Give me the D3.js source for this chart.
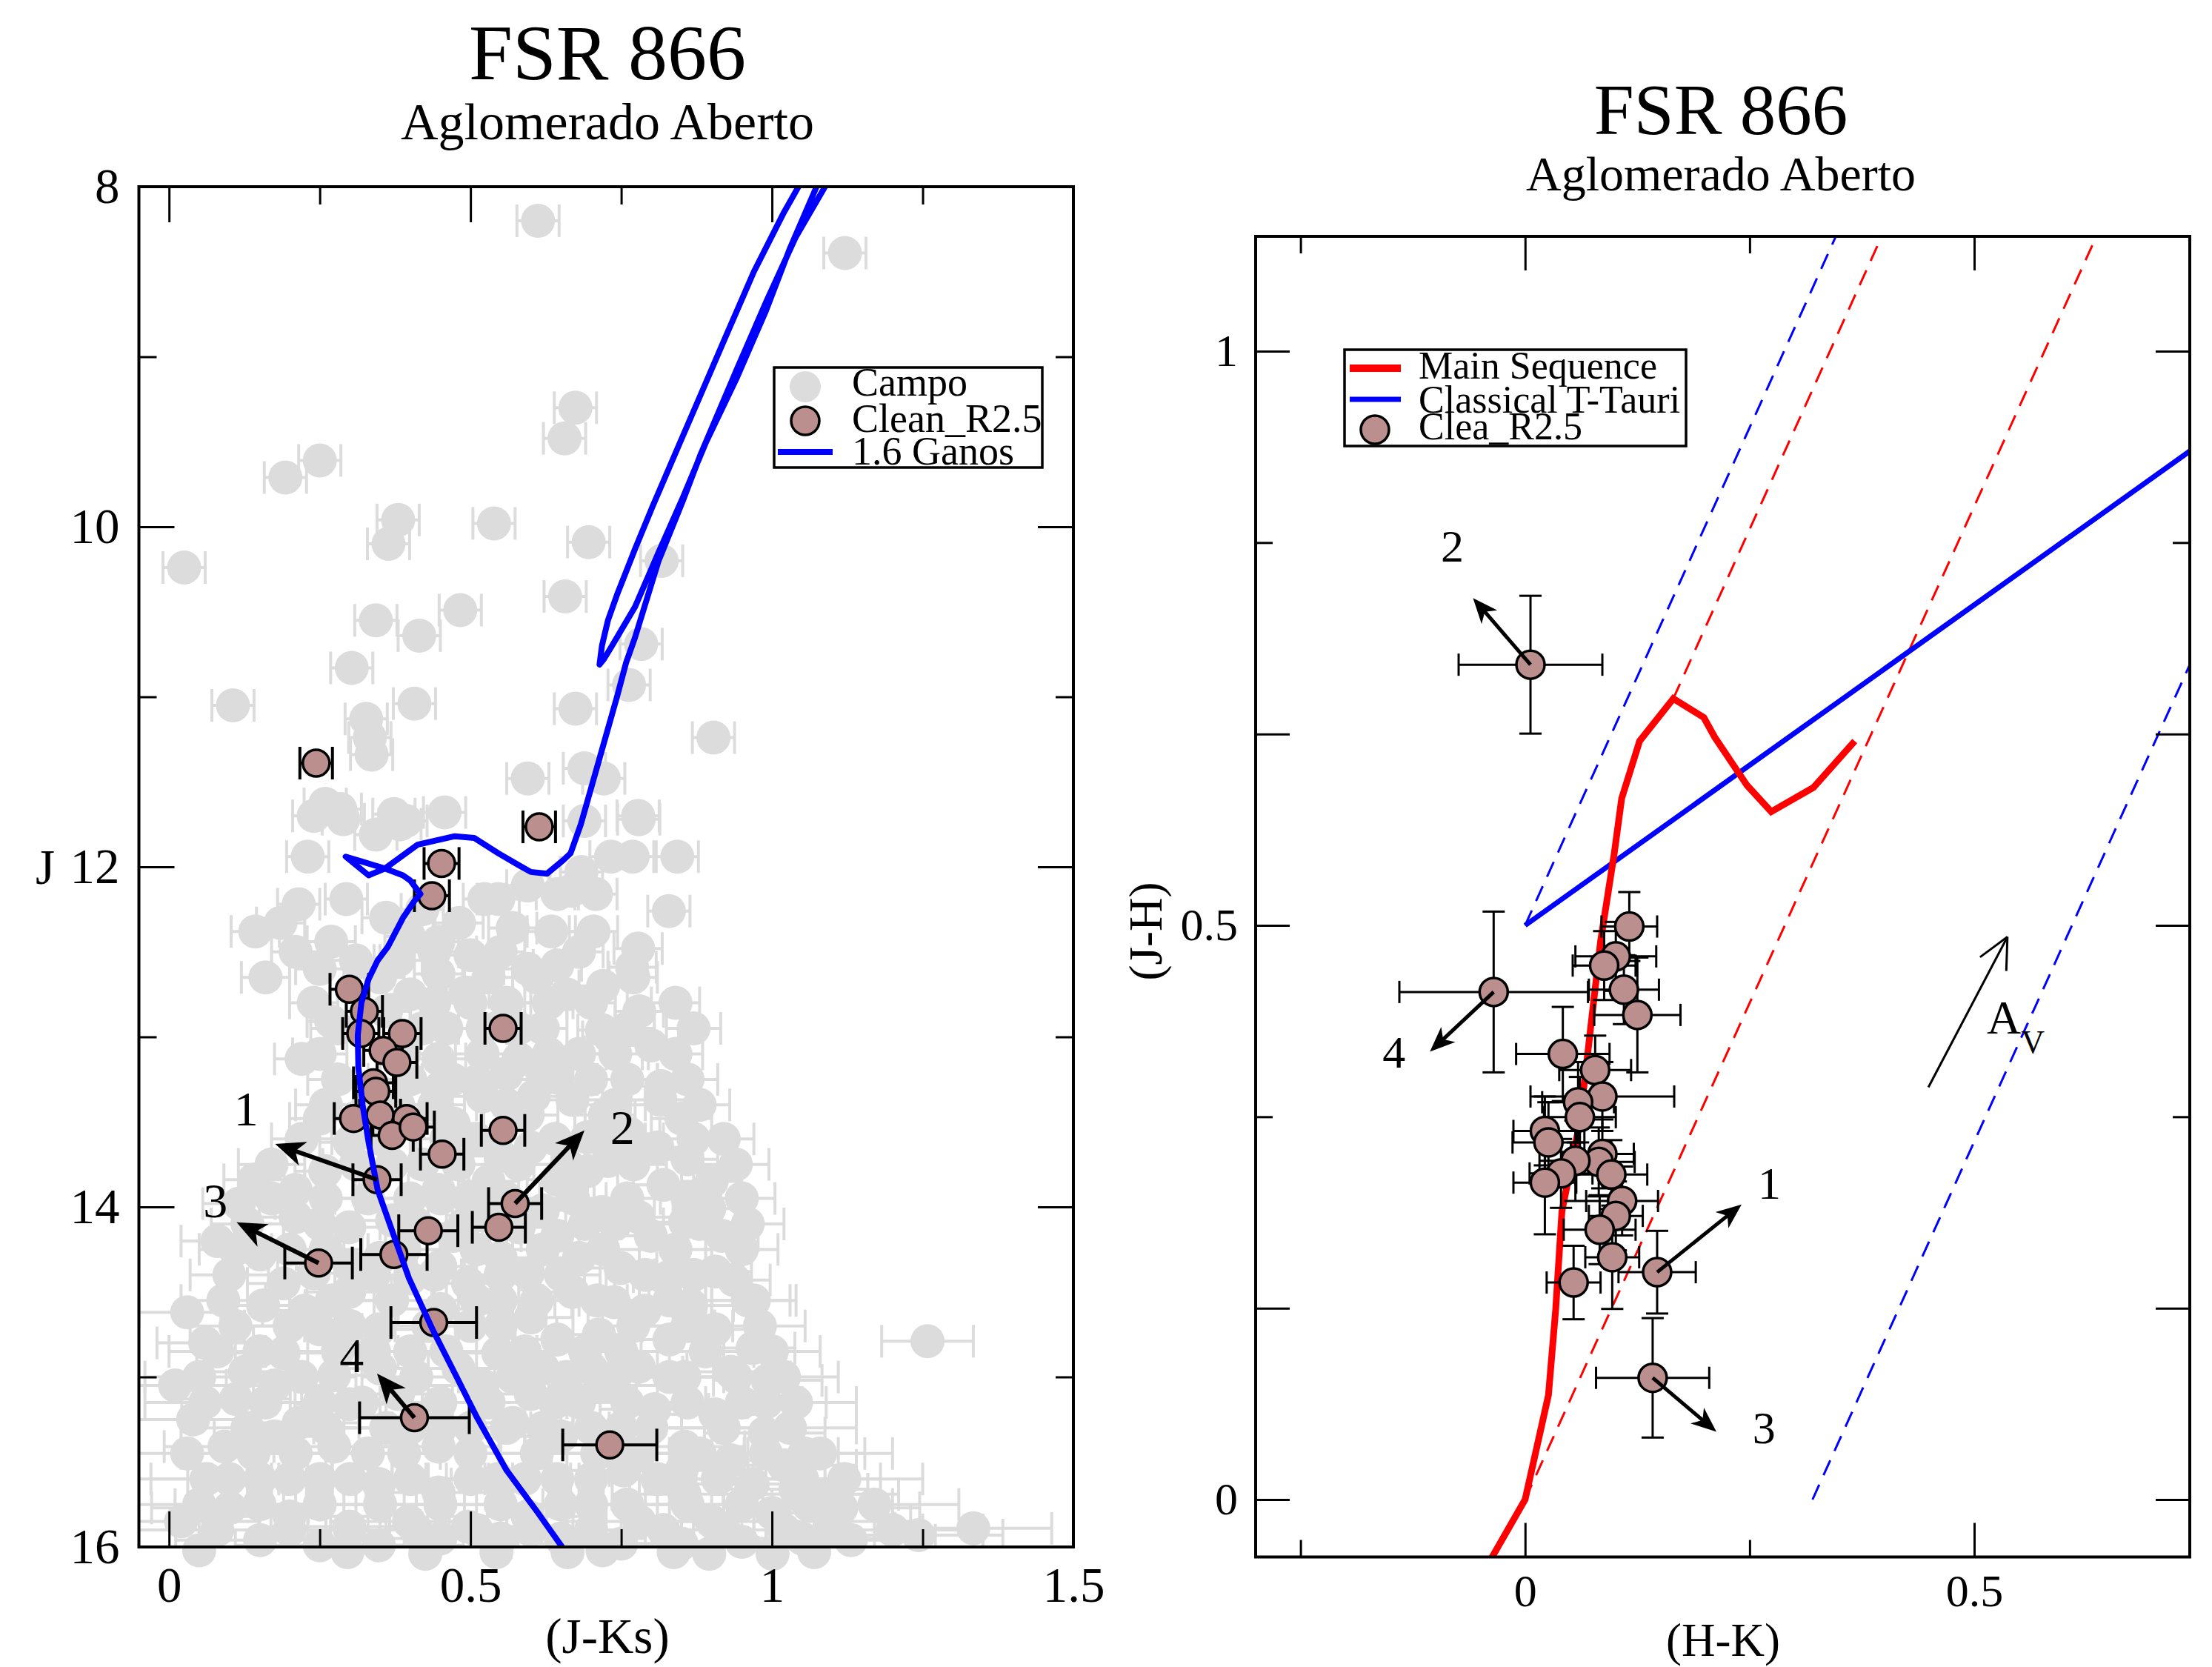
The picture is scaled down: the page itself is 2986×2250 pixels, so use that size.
<!DOCTYPE html>
<html>
<head>
<meta charset="utf-8">
<script src="https://cdn.jsdelivr.net/npm/d3@7"></script>
<style>
  body { margin: 0; background: #fff; }
  text { font-family: "Liberation Serif", "Times New Roman", Times, serif; fill: #000; }
</style>
</head>
<body>
<div id="chart"></div>
<script>
// ---------- left panel data: CMD J vs (J-Ks) ----------
// field stars [J-Ks, J, err(J-Ks)]
const campo = [
  [0.612,8.20,0.035],[1.121,8.39,0.035],[0.674,9.30,0.035],[0.656,9.48,0.035],[0.250,9.61,0.035],
  [0.193,9.71,0.035],[0.380,9.96,0.035],[0.539,9.98,0.035],[0.364,10.10,0.035],[0.696,10.09,0.035],
  [0.025,10.24,0.035],[0.817,10.20,0.035],[0.657,10.41,0.035],[0.483,10.49,0.035],[0.343,10.55,0.035],
  [0.415,10.64,0.035],[0.783,10.69,0.035],[0.303,10.83,0.035],[0.763,10.93,0.035],[0.106,11.05,0.035],
  [0.407,11.04,0.035],[0.327,11.13,0.035],[0.674,11.07,0.035],[0.333,11.24,0.035],[0.903,11.24,0.035],
  [0.336,11.34,0.035],[0.595,11.48,0.035],[0.689,11.42,0.035],[0.721,11.48,0.035],[0.259,11.63,0.035],
  [0.284,11.66,0.035],[0.240,11.70,0.035],[0.373,11.69,0.035],[0.393,11.73,0.035],[0.457,11.68,0.035],
  [0.343,11.81,0.035],[0.778,11.70,0.035],[0.689,11.73,0.035],
  [0.289,11.72,0.035],[0.383,11.75,0.035],[0.230,11.94,0.035],[0.779,11.72,0.035],[0.733,11.94,0.035],
  [0.769,11.94,0.035],[0.843,11.94,0.035],[0.294,12.19,0.035],[0.215,12.22,0.035],[0.143,12.38,0.04],
  [0.269,12.44,0.04],[0.398,12.41,0.04],[0.447,12.44,0.04],[0.481,12.33,0.04],[0.546,12.19,0.035],
  [0.595,12.11,0.035],[0.644,12.16,0.035],[0.684,12.03,0.035],[0.708,12.16,0.035],[0.829,12.26,0.035],
  [0.704,12.38,0.04],[0.634,12.38,0.04],[0.570,12.36,0.04],[0.778,12.48,0.04],[0.768,12.59,0.04],
  [0.667,12.14,0.035],[0.523,12.19,0.035],[0.360,12.30,0.04],[0.420,12.25,0.035],[0.185,12.33,0.04],
  [0.447,12.63,0.04],[0.491,12.74,0.04],[0.560,12.80,0.04],[0.595,12.60,0.04],[0.644,12.58,0.04],
  [0.718,12.96,0.04],[0.269,12.91,0.04],[0.220,13.13,0.045],[0.447,13.13,0.045],[0.511,13.26,0.045],
  [0.580,13.13,0.045],[0.731,13.00,0.045],[0.400,12.75,0.04],[0.360,12.85,0.04],[0.520,12.95,0.04],
  [0.620,12.95,0.04],[0.660,12.75,0.04],[0.780,12.85,0.04],[0.800,13.05,0.045],[0.250,12.60,0.04],
  [0.310,12.55,0.04],[0.380,12.55,0.04],[0.500,12.52,0.04],[0.720,12.70,0.04],[0.680,13.10,0.045],
  [0.644,13.24,0.05],[0.605,13.35,0.05],[0.669,13.37,0.05],[0.250,13.48,0.05],[0.472,13.51,0.05],
  [0.595,13.46,0.05],[0.694,13.59,0.05],[0.816,13.29,0.05],[0.815,13.37,0.05],[0.850,13.48,0.05],
  [0.723,13.46,0.05],[0.764,13.57,0.05],[0.810,13.65,0.05],[0.728,13.73,0.05],[0.820,13.87,0.05],
  [0.141,13.84,0.05],[0.210,13.90,0.05],[0.259,13.79,0.05],[0.447,13.90,0.05],[0.496,13.95,0.05],
  [0.644,13.84,0.05],[0.694,13.79,0.05],[0.520,13.35,0.05],[0.450,13.30,0.05],[0.420,13.75,0.05],
  [0.550,13.70,0.05],[0.600,13.65,0.05],[0.530,13.85,0.05],[0.400,13.95,0.05],[0.300,13.62,0.05],
  [0.560,13.22,0.05],[0.380,13.40,0.05],[0.900,13.85,0.05],[0.860,13.72,0.05],
  [0.116,13.98,0.06],[0.210,14.06,0.06],[0.299,14.12,0.06],[0.151,14.28,0.06],[0.472,14.17,0.06],
  [0.644,14.17,0.06],[0.718,14.03,0.06],[0.779,14.06,0.06],[0.799,14.17,0.06],[0.856,14.09,0.06],
  [0.917,14.17,0.06],[0.896,14.01,0.06],[0.749,14.36,0.06],[0.830,14.41,0.06],[0.906,14.38,0.06],
  [0.937,14.43,0.06],[0.190,14.45,0.06],[0.240,14.39,0.06],[0.496,14.45,0.06],[0.595,14.39,0.06],
  [0.350,14.30,0.06],[0.400,14.42,0.06],[0.550,14.30,0.06],[0.620,14.02,0.06],[0.580,14.12,0.06],
  [0.680,14.30,0.06],[0.520,14.05,0.06],[0.450,14.35,0.06],[0.300,14.35,0.06],[0.080,14.20,0.06],
  [0.370,14.08,0.06],
  [0.156,14.58,0.07],[0.225,14.61,0.07],[0.299,14.50,0.07],[0.669,14.50,0.07],[0.738,14.56,0.07],
  [0.789,14.61,0.07],[0.866,14.58,0.07],[0.713,14.75,0.07],[0.830,14.78,0.07],[0.906,14.72,0.07],
  [0.968,14.83,0.07],[1.258,14.79,0.076],[0.190,14.86,0.08],[0.250,14.72,0.07],[0.348,14.72,0.07],
  [0.546,14.86,0.08],[0.644,14.78,0.07],[0.779,14.94,0.08],[0.855,15.00,0.08],[0.932,14.97,0.08],
  [0.126,14.97,0.08],[0.175,15.05,0.08],[0.274,14.99,0.08],[0.400,14.85,0.08],[0.450,14.60,0.07],
  [0.500,14.70,0.07],[0.550,14.55,0.07],[0.600,14.65,0.07],[0.620,14.95,0.08],[0.700,14.95,0.08],
  [0.350,14.95,0.08],[0.480,14.95,0.08],[0.060,14.80,0.08],
  [0.993,15.02,0.09],[0.805,15.19,0.09],[0.906,15.22,0.09],[0.988,15.33,0.10],[0.855,15.41,0.10],
  [0.111,15.13,0.09],[0.215,15.27,0.10],[0.299,15.16,0.09],[0.092,15.41,0.10],[0.175,15.35,0.10],
  [0.274,15.41,0.10],[0.447,15.41,0.10],[0.570,15.27,0.10],[0.932,15.49,0.10],[1.054,15.45,0.10],
  [0.380,15.10,0.09],[0.450,15.15,0.09],[0.520,15.05,0.09],[0.600,15.10,0.09],[0.680,15.15,0.09],
  [0.750,15.30,0.10],[0.650,15.35,0.10],[0.360,15.30,0.10],[0.500,15.30,0.10],[0.720,15.05,0.09],
  [0.040,15.25,0.10],
  [0.062,15.60,0.12],[0.151,15.60,0.12],[0.250,15.60,0.12],[0.348,15.63,0.12],[0.447,15.68,0.12],
  [0.546,15.60,0.12],[0.644,15.60,0.12],[0.101,15.77,0.13],[0.200,15.82,0.13],[0.299,15.88,0.13],
  [0.398,15.85,0.13],[0.496,15.88,0.13],[0.595,15.82,0.13],[0.151,15.96,0.14],[0.250,15.99,0.14],
  [0.348,15.99,0.14],[0.754,15.55,0.12],[0.855,15.69,0.12],[0.968,15.63,0.12],[1.039,15.66,0.12],
  [1.090,15.69,0.12],[1.115,15.77,0.13],[1.131,15.96,0.14],[1.243,15.93,0.14],[1.334,15.89,0.13],
  [0.296,16.03,0.14],[0.425,16.04,0.14],[0.543,16.03,0.14],[0.661,16.03,0.14],[0.719,16.02,0.14],
  [0.837,16.03,0.14],[0.896,16.04,0.14],[1.001,16.04,0.14],[0.700,15.75,0.13],[0.780,15.85,0.13],
  [0.900,15.85,0.13],[1.000,15.80,0.13],[0.020,15.85,0.13],[0.650,15.95,0.14],[0.550,15.95,0.14],
  [0.450,15.95,0.14],[0.750,15.98,0.14],[0.850,15.98,0.14],[0.950,15.97,0.14],[1.050,15.95,0.14],
  [0.050,16.02,0.14],[0.850,15.55,0.12],[1.020,15.52,0.12],[1.100,15.85,0.13],[1.070,16.03,0.14],
  [0.010,15.05,0.10],[0.030,14.62,0.08],[0.990,15.15,0.10],[0.970,14.55,0.07]
];

// the crowded lower part of the field cloud, read row by row: J, err, J-Ks values
const campoRows = [
  { J: 12.50, err: 0.04, v: [0.21,0.44,0.55,0.68] },
  { J: 12.65, err: 0.04, v: [0.16,0.35,0.53,0.61,0.77] },
  { J: 12.80, err: 0.04, v: [0.24,0.44,0.50,0.63,0.70,0.84] },
  { J: 12.95, err: 0.045, v: [0.28,0.42,0.46,0.58,0.76,0.87] },
  { J: 13.10, err: 0.045, v: [0.25,0.39,0.52,0.63,0.74,0.84] },
  { J: 13.25, err: 0.05, v: [0.28,0.40,0.47,0.62,0.70,0.76,0.86] },
  { J: 13.40, err: 0.05, v: [0.26,0.33,0.44,0.56,0.74,0.88] },
  { J: 13.60, err: 0.05, v: [0.22,0.35,0.46,0.51,0.64,0.74,0.87,0.92] },
  { J: 13.75, err: 0.055, v: [0.17,0.31,0.37,0.48,0.58,0.66,0.77,0.94] },
  { J: 13.95, err: 0.055, v: [0.17,0.26,0.33,0.45,0.56,0.67,0.76,0.86,0.95] },
  { J: 14.10, err: 0.06, v: [0.13,0.25,0.41,0.49,0.69,0.74,0.88,0.96] },
  { J: 14.25, err: 0.06, v: [0.11,0.20,0.26,0.39,0.51,0.62,0.72,0.84,0.95] },
  { J: 14.40, err: 0.065, v: [0.10,0.34,0.44,0.55,0.65,0.79,0.87] },
  { J: 14.55, err: 0.07, v: [0.09,0.27,0.37,0.51,0.61,0.71,0.83,0.96] },
  { J: 14.70, err: 0.075, v: [0.11,0.20,0.30,0.43,0.55,0.77,0.86,0.98] },
  { J: 14.85, err: 0.08, v: [0.08,0.15,0.28,0.34,0.46,0.59,0.69,0.75,0.89,1.00] },
  { J: 15.00, err: 0.09, v: [0.05,0.22,0.41,0.57,0.66,0.74,0.83,0.94,1.02] },
  { J: 15.15, err: 0.10, v: [0.06,0.16,0.25,0.32,0.53,0.64,0.76,0.86,0.95,1.04] },
  { J: 15.30, err: 0.11, v: [0.13,0.26,0.40,0.45,0.56,0.62,0.70,0.80,0.92,1.03] },
  { J: 15.45, err: 0.12, v: [0.03,0.14,0.21,0.33,0.39,0.50,0.61,0.71,0.78,0.88,0.99,1.08] },
  { J: 15.60, err: 0.13, v: [0.10,0.20,0.30,0.40,0.50,0.59,0.70,0.81,0.91,1.05,1.12] },
  { J: 15.75, err: 0.14, v: [0.05,0.15,0.25,0.35,0.45,0.55,0.65,0.76,0.86,0.95,1.06,1.17] },
  { J: 15.90, err: 0.15, v: [0.08,0.20,0.30,0.41,0.51,0.60,0.70,0.82,0.92,1.02,1.10,1.20] }
];

// decontaminated members [J-Ks, J, err(J-Ks)]
const clean = [
  [0.244,11.39,0.027],[0.614,11.765,0.027],[0.452,11.98,0.029],[0.436,12.17,0.029],[0.299,12.72,0.032],
  [0.324,12.85,0.030],[0.318,12.98,0.030],[0.387,12.98,0.031],[0.554,12.95,0.030],[0.355,13.08,0.032],
  [0.378,13.15,0.033],[0.339,13.27,0.033],[0.343,13.32,0.033],[0.306,13.48,0.032],[0.350,13.46,0.034],
  [0.394,13.48,0.034],[0.370,13.58,0.035],[0.405,13.53,0.035],[0.554,13.55,0.036],[0.453,13.69,0.036],
  [0.345,13.84,0.040],[0.574,13.98,0.044],[0.430,14.14,0.049],[0.547,14.12,0.044],[0.373,14.28,0.055],
  [0.248,14.33,0.056],[0.439,14.68,0.071],[0.407,15.24,0.091],[0.731,15.40,0.078]
];

// 1.6 Gyr isochrone [J-Ks, J]
const isochrone = [
  [0.660,16.03],[0.654,16.01],[0.610,15.79],[0.560,15.55],[0.511,15.24],[0.477,15.00],[0.437,14.72],
  [0.398,14.42],[0.368,14.12],[0.346,13.90],[0.331,13.62],[0.321,13.40],[0.314,13.18],[0.313,12.99],
  [0.319,12.80],[0.331,12.66],[0.346,12.55],[0.363,12.47],[0.388,12.30],[0.407,12.20],[0.417,12.16],
  [0.400,12.08],[0.388,12.05],[0.358,12.01],[0.331,12.05],[0.293,11.94],[0.321,11.97],[0.358,12.01],
  [0.412,11.87],[0.474,11.82],[0.506,11.83],[0.546,11.92],[0.580,11.99],[0.600,12.03],[0.627,12.04],
  [0.654,11.96],[0.666,11.92],[0.683,11.75],[0.699,11.55],[0.723,11.25],[0.743,11.00],[0.758,10.80],
  [0.773,10.65],[0.812,10.20],[0.852,9.85],[0.881,9.58],[0.941,9.08],[0.990,8.68],[1.039,8.30],
  [1.088,8.00],[1.100,7.92],[1.085,7.92],
  [1.074,8.00],[1.029,8.37],[0.990,8.73],[0.941,9.13],[0.891,9.50],[0.852,9.83],[0.812,10.15],
  [0.773,10.47],[0.733,10.71],[0.721,10.78],[0.714,10.81],
  [0.718,10.70],[0.728,10.55],[0.743,10.40],[0.773,10.13],[0.802,9.88],[0.842,9.55],[0.881,9.23],
  [0.921,8.90],[0.970,8.50],[1.020,8.15],[1.044,8.00],[1.060,7.90]
];

// reddening arrows on the CMD: star -> tip, label position
const cmdArrows = [
  { id: "1", from: [0.345,13.84], to: [0.176,13.63], at: [0.128,13.42] },
  { id: "2", from: [0.574,13.98], to: [0.689,13.55], at: [0.752,13.53] },
  { id: "3", from: [0.248,14.33], to: [0.112,14.09], at: [0.077,13.96] },
  { id: "4", from: [0.407,15.24], to: [0.345,14.98], at: [0.303,14.87] }
];

// ---------- right panel data: (J-H) vs (H-K) ----------
// [H-K, J-H, errX, errY]
const cleanCC = [
  [0.116,0.499,0.031,0.030],[0.101,0.473,0.045,0.030],[0.088,0.465,0.035,0.030],[0.110,0.444,0.039,0.030],
  [0.125,0.422,0.048,0.050],[-0.035,0.442,0.105,0.070],[0.042,0.388,0.052,0.041],[0.078,0.374,0.040,0.030],
  [0.086,0.351,0.080,0.030],[0.059,0.346,0.040,0.035],[0.061,0.333,0.040,0.035],[0.022,0.321,0.035,0.030],
  [0.026,0.311,0.040,0.035],[0.086,0.301,0.035,0.030],[0.082,0.294,0.040,0.030],[0.056,0.295,0.040,0.035],
  [0.040,0.284,0.035,0.030],[0.096,0.283,0.040,0.030],[0.022,0.276,0.035,0.045],[0.108,0.260,0.040,0.030],
  [0.101,0.247,0.030,0.030],[0.083,0.235,0.040,0.030],[0.097,0.211,0.030,0.045],[0.147,0.198,0.043,0.036],
  [0.054,0.189,0.030,0.032],[0.142,0.106,0.063,0.052],[0.006,0.727,0.080,0.060]
];

const mainSequence = [
  [-0.044,-0.06],[0.0,0.0],[0.026,0.091],[0.034,0.165],[0.041,0.251],[0.061,0.329],[0.084,0.486],
  [0.0995,0.564],[0.1075,0.6105],[0.1275,0.6605],[0.165,0.6975],[0.199,0.681],[0.211,0.664],
  [0.247,0.622],[0.274,0.599],[0.321,0.620],[0.367,0.6605]
];
const ttauri = [[0.0,0.5],[0.74,0.913]];
const reddeningBands = [
  { color: "#0000ff", pts: [[0.0,0.5],[0.346,1.1]] },
  { color: "#ff0000", pts: [[0.165,0.6975],[0.397,1.1]] },
  { color: "#ff0000", pts: [[0.0,0.0],[0.636,1.1]] },
  { color: "#0000ff", pts: [[0.32,0.0],[0.74,0.727]] }
];
const ccArrows = [
  { id: "1", from: [0.147,0.198], to: [0.241,0.257], at: [0.272,0.276] },
  { id: "2", from: [0.006,0.727], to: [-0.058,0.785], at: [-0.081,0.831] },
  { id: "3", from: [0.142,0.106], to: [0.213,0.059], at: [0.266,0.063] },
  { id: "4", from: [-0.035,0.442], to: [-0.106,0.390], at: [-0.146,0.390] }
];
const avVector = { from: [0.449,0.359], to: [0.537,0.490] };

// ---------- setup ----------
const brown = "#bc8f8f", grey = "#dcdcdc";
const svg = d3.select("#chart").append("svg")
  .attr("width", 2986)
  .attr("height", 2250);

svg.append("rect").attr("width", 2986).attr("height", 2250).attr("fill", "#fff");

function arrow(g, x1, y1, x2, y2, w, hl, hw) {
  const L = Math.hypot(x2 - x1, y2 - y1), ux = (x2 - x1) / L, uy = (y2 - y1) / L;
  const px = -uy, py = ux;
  const bx = x2 - ux * hl, by = y2 - uy * hl;
  g.append("line")
    .attr("x1", x1).attr("y1", y1)
    .attr("x2", x2 - ux * hl * 0.6).attr("y2", y2 - uy * hl * 0.6)
    .attr("stroke", "#000").attr("stroke-width", w);
  g.append("path")
    .attr("d", `M${x2},${y2}L${bx + px * hw},${by + py * hw}L${x2 - ux * hl * 0.72},${y2 - uy * hl * 0.72}L${bx - px * hw},${by - py * hw}Z`)
    .attr("fill", "#000");
}

function styleAxis(g, fs) {
  g.select(".domain").remove();
  g.selectAll(".tick line").attr("stroke", "#000").attr("stroke-width", 3);
  g.selectAll(".tick text").style("font-size", fs + "px").attr("fill", "#000");
}

function drawAxes(g, x, y, o) {
  const [x0, x1] = x.range(), [y0, y1] = y.range();
  const fmt = d3.format("~g");
  const specs = [
    [d3.axisBottom(x).tickValues(o.xMajor).tickSize(-o.major).tickPadding(o.xPad).tickFormat(fmt), `translate(0,${y0})`],
    [d3.axisBottom(x).tickValues(o.xMinor).tickSize(-o.minor).tickFormat(""), `translate(0,${y0})`],
    [d3.axisTop(x).tickValues(o.xMajor).tickSize(-o.major).tickFormat(""), `translate(0,${y1})`],
    [d3.axisTop(x).tickValues(o.xMinor).tickSize(-o.minor).tickFormat(""), `translate(0,${y1})`],
    [d3.axisLeft(y).tickValues(o.yMajor).tickSize(-o.major).tickPadding(o.yPad).tickFormat(fmt), `translate(${x0},0)`],
    [d3.axisLeft(y).tickValues(o.yMinor).tickSize(-o.minor).tickFormat(""), `translate(${x0},0)`],
    [d3.axisRight(y).tickValues(o.yMajor).tickSize(-o.major).tickFormat(""), `translate(${x1},0)`],
    [d3.axisRight(y).tickValues(o.yMinor).tickSize(-o.minor).tickFormat(""), `translate(${x1},0)`]
  ];
  specs.forEach(([ax, tr]) => {
    g.append("g").attr("transform", tr).call(ax).call(s => styleAxis(s, o.fs));
  });
  g.append("rect")
    .attr("x", x0).attr("y", y1)
    .attr("width", x1 - x0).attr("height", y0 - y1)
    .attr("fill", "none").attr("stroke", "#000").attr("stroke-width", 4);
}

// ================= LEFT PANEL =================
const xL = d3.scaleLinear().domain([-0.05, 1.5]).range([187.5, 1449]);
const yL = d3.scaleLinear().domain([16, 8]).range([2088, 252]);
const left = svg.append("g");

left.append("clipPath").attr("id", "clipL").append("rect")
  .attr("x", 187.5).attr("y", 252).attr("width", 1261.5).attr("height", 1836);

const field = campo.concat(campoRows.flatMap(r => r.v.map(v => [v, r.J, r.err])));

// field error bars
const capL = 22;
const errG = left.append("g").attr("clip-path", "url(#clipL)")
  .attr("stroke", grey).attr("stroke-width", 4);
field.forEach(d => {
  const y = yL(d[1]), xa = xL(d[0] - d[2]), xb = xL(d[0] + d[2]);
  errG.append("line").attr("x1", xa).attr("x2", xb).attr("y1", y).attr("y2", y);
  errG.append("line").attr("x1", xa).attr("x2", xa).attr("y1", y - capL).attr("y2", y + capL);
  errG.append("line").attr("x1", xb).attr("x2", xb).attr("y1", y - capL).attr("y2", y + capL);
});
left.append("g").selectAll("circle")
  .data(field)
  .join("circle")
  .attr("cx", d => xL(d[0]))
  .attr("cy", d => yL(d[1]))
  .attr("r", 23)
  .attr("fill", grey);

// member error bars + symbols
const cErr = left.append("g").attr("stroke", "#000").attr("stroke-width", 4);
clean.forEach(d => {
  const y = yL(d[1]), xa = xL(d[0] - d[2]), xb = xL(d[0] + d[2]);
  cErr.append("line").attr("x1", xa).attr("x2", xb).attr("y1", y).attr("y2", y);
  cErr.append("line").attr("x1", xa).attr("x2", xa).attr("y1", y - capL).attr("y2", y + capL);
  cErr.append("line").attr("x1", xb).attr("x2", xb).attr("y1", y - capL).attr("y2", y + capL);
});
left.append("g").selectAll("circle")
  .data(clean)
  .join("circle")
  .attr("cx", d => xL(d[0]))
  .attr("cy", d => yL(d[1]))
  .attr("r", 18)
  .attr("fill", brown)
  .attr("stroke", "#000")
  .attr("stroke-width", 3.5);

// isochrone
left.append("path")
  .datum(isochrone)
  .attr("clip-path", "url(#clipL)")
  .attr("fill", "none")
  .attr("stroke", "#0000ff")
  .attr("stroke-width", 8)
  .attr("stroke-linejoin", "round")
  .attr("d", d3.line().x(d => xL(d[0])).y(d => yL(d[1])));

// arrows
const arrL = left.append("g");
cmdArrows.forEach(a => {
  arrow(arrL, xL(a.from[0]), yL(a.from[1]), xL(a.to[0]), yL(a.to[1]), 6, 40, 17);
  arrL.append("text")
    .attr("x", xL(a.at[0])).attr("y", yL(a.at[1]))
    .attr("dy", "0.35em").attr("text-anchor", "middle")
    .style("font-size", "66px")
    .text(a.id);
});

drawAxes(left, xL, yL, {
  xMajor: [0, 0.5, 1, 1.5], xMinor: [0.25, 0.75, 1.25],
  yMajor: [8, 10, 12, 14, 16], yMinor: [9, 11, 13, 15],
  major: 48, minor: 24, xPad: 26, yPad: 26, fs: 67
});

// legend
const legL = left.append("g");
legL.append("rect").attr("x", 1045).attr("y", 496).attr("width", 362).attr("height", 135)
  .attr("fill", "#fff").attr("stroke", "#000").attr("stroke-width", 3.5);
legL.append("circle").attr("cx", 1087).attr("cy", 522).attr("r", 21).attr("fill", grey);
legL.append("circle").attr("cx", 1087).attr("cy", 568).attr("r", 19).attr("fill", brown)
  .attr("stroke", "#000").attr("stroke-width", 3.5);
legL.append("line").attr("x1", 1050).attr("x2", 1124).attr("y1", 610).attr("y2", 610)
  .attr("stroke", "#0000ff").attr("stroke-width", 8);
[["Campo", 534], ["Clean_R2.5", 583], ["1.6 Ganos", 627]].forEach(([t, y]) => {
  legL.append("text").attr("x", 1150).attr("y", y).style("font-size", "54px").text(t);
});

// titles and axis labels
left.append("text").attr("x", 820).attr("y", 107).attr("text-anchor", "middle")
  .style("font-size", "106px").text("FSR 866");
left.append("text").attr("x", 820).attr("y", 188).attr("text-anchor", "middle")
  .style("font-size", "70px").text("Aglomerado Aberto");
left.append("text").attr("x", 820).attr("y", 2231).attr("text-anchor", "middle")
  .style("font-size", "67px").text("(J-Ks)");
left.append("text").attr("x", 61).attr("y", yL(12)).attr("dy", "0.35em").attr("text-anchor", "middle")
  .style("font-size", "67px").text("J");

// ================= RIGHT PANEL =================
const xR = d3.scaleLinear().domain([-0.3, 0.74]).range([1695, 2956]);
const yR = d3.scaleLinear().domain([-0.05, 1.1]).range([2101.5, 319]);
const right = svg.append("g");

right.append("clipPath").attr("id", "clipR").append("rect")
  .attr("x", 1695).attr("y", 319).attr("width", 1261).attr("height", 1782.5);

const lineR = d3.line().x(d => xR(d[0])).y(d => yR(d[1]));
const linesR = right.append("g").attr("clip-path", "url(#clipR)");

reddeningBands.forEach(b => {
  linesR.append("path").datum(b.pts)
    .attr("d", lineR).attr("fill", "none")
    .attr("stroke", b.color).attr("stroke-width", 3)
    .attr("stroke-dasharray", "22,14");
});
linesR.append("path").datum(ttauri)
  .attr("d", lineR).attr("fill", "none")
  .attr("stroke", "#0000ff").attr("stroke-width", 7);
linesR.append("path").datum(mainSequence)
  .attr("d", lineR).attr("fill", "none")
  .attr("stroke", "#ff0000").attr("stroke-width", 9)
  .attr("stroke-linejoin", "miter");

// error bars + symbols
const capR = 15;
const errR = right.append("g").attr("stroke", "#000").attr("stroke-width", 3);
cleanCC.forEach(d => {
  const x = xR(d[0]), y = yR(d[1]);
  const xa = xR(d[0] - d[2]), xb = xR(d[0] + d[2]);
  const ya = yR(d[1] - d[3]), yb = yR(d[1] + d[3]);
  errR.append("line").attr("x1", xa).attr("x2", xb).attr("y1", y).attr("y2", y);
  errR.append("line").attr("x1", xa).attr("x2", xa).attr("y1", y - capR).attr("y2", y + capR);
  errR.append("line").attr("x1", xb).attr("x2", xb).attr("y1", y - capR).attr("y2", y + capR);
  errR.append("line").attr("x1", x).attr("x2", x).attr("y1", ya).attr("y2", yb);
  errR.append("line").attr("x1", x - capR).attr("x2", x + capR).attr("y1", ya).attr("y2", ya);
  errR.append("line").attr("x1", x - capR).attr("x2", x + capR).attr("y1", yb).attr("y2", yb);
});
right.append("g").selectAll("circle")
  .data(cleanCC)
  .join("circle")
  .attr("cx", d => xR(d[0]))
  .attr("cy", d => yR(d[1]))
  .attr("r", 19)
  .attr("fill", brown)
  .attr("stroke", "#000")
  .attr("stroke-width", 3.5);

const arrR = right.append("g");
ccArrows.forEach(a => {
  arrow(arrR, xR(a.from[0]), yR(a.from[1]), xR(a.to[0]), yR(a.to[1]), 5, 34, 14);
  arrR.append("text")
    .attr("x", xR(a.at[0])).attr("y", yR(a.at[1]))
    .attr("dy", "0.35em").attr("text-anchor", "middle")
    .style("font-size", "62px")
    .text(a.id);
});

// A_V reddening vector
{
  const x1 = xR(avVector.from[0]), y1 = yR(avVector.from[1]);
  const x2 = xR(avVector.to[0]), y2 = yR(avVector.to[1]);
  const ang = Math.atan2(y1 - y2, x1 - x2);
  const g = right.append("g").attr("stroke", "#000").attr("stroke-width", 3).attr("fill", "none");
  g.append("line").attr("x1", x1).attr("y1", y1).attr("x2", x2).attr("y2", y2);
  [-0.45, 0.45].forEach(da => {
    g.append("line").attr("x1", x2).attr("y1", y2)
      .attr("x2", x2 + 46 * Math.cos(ang + da)).attr("y2", y2 + 46 * Math.sin(ang + da));
  });
  const t = right.append("text").attr("x", 2682).attr("y", 1395).style("font-size", "64px");
  t.append("tspan").text("A");
  t.append("tspan").attr("dy", 26).style("font-size", "44px").text("V");
}

drawAxes(right, xR, yR, {
  xMajor: [0, 0.5], xMinor: [-0.25, 0.25],
  yMajor: [0, 1 / 6, 0.5, 2 / 3, 1], yMinor: [1 / 3, 5 / 6],
  major: 46, minor: 23, xPad: 22, yPad: 24, fs: 62
});
// only 0, 0.5 and 1 carry labels on the colour-colour y axis
right.selectAll(".tick text").filter(function () {
  const t = this.textContent;
  return t !== "" && !["0", "0.5", "1"].includes(t);
}).remove();

// legend
const legR = right.append("g");
legR.append("rect").attr("x", 1815).attr("y", 472).attr("width", 461).attr("height", 130)
  .attr("fill", "#fff").attr("stroke", "#000").attr("stroke-width", 3.5);
legR.append("line").attr("x1", 1822).attr("x2", 1891).attr("y1", 497).attr("y2", 497)
  .attr("stroke", "#ff0000").attr("stroke-width", 10);
legR.append("line").attr("x1", 1822).attr("x2", 1891).attr("y1", 539).attr("y2", 539)
  .attr("stroke", "#0000ff").attr("stroke-width", 7);
legR.append("circle").attr("cx", 1856).attr("cy", 580).attr("r", 19).attr("fill", brown)
  .attr("stroke", "#000").attr("stroke-width", 3.5);
[["Main Sequence", 511], ["Classical T-Tauri", 557], ["Clea_R2.5", 593]].forEach(([t, y]) => {
  legR.append("text").attr("x", 1915).attr("y", y).style("font-size", "52px").text(t);
});

right.append("text").attr("x", 2323).attr("y", 181).attr("text-anchor", "middle")
  .style("font-size", "97px").text("FSR 866");
right.append("text").attr("x", 2323).attr("y", 257).attr("text-anchor", "middle")
  .style("font-size", "66px").text("Aglomerado Aberto");
right.append("text").attr("x", 2326).attr("y", 2235).attr("text-anchor", "middle")
  .style("font-size", "63px").text("(H-K)");
right.append("text")
  .attr("transform", "translate(1546,1257) rotate(-90)")
  .attr("dy", "0.35em").attr("text-anchor", "middle")
  .style("font-size", "63px").text("(J-H)");
</script>
</body>
</html>
